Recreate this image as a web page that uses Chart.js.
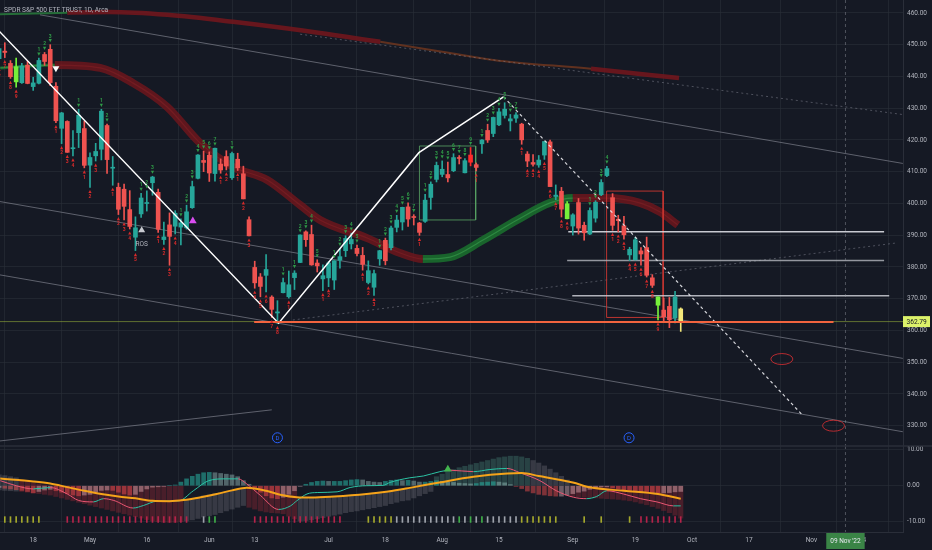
<!DOCTYPE html>
<html>
<head>
<meta charset="utf-8">
<script src="https://cdn.jsdelivr.net/npm/chart.js@4.4.1/dist/chart.umd.min.js"></script>
<style>
html, body { margin: 0; padding: 0; background: #151924; }
#wrap { position: relative; width: 932px; height: 550px; overflow: hidden; background: #151924; }
canvas { position: absolute; left: 0; }
#priceChart { top: 0; }
#oscChart { top: 440px; }
</style>
</head>
<body>
<div id="wrap">
  <canvas id="priceChart" width="932" height="446"></canvas>
  <canvas id="oscChart" width="932" height="110"></canvas>
</div>
<script>
// SPY daily, 7 Apr 2022 .. 29 Sep 2022 (bar index 0..120)
const opens = [445.59,447.97,444.11,443.08,438.03,443.55,436.81,437.86,446.92,448.54,436.91,423.67,425.83,417.24,422.29,423.59,
  412.07,415.01,417.08,424.55,411.10,405.10,404.49,398.07,389.37,396.71,399.98,406.53,403.50,388.62,393.25,392.83,392.56,392.31,398.67,407.91,413.55,
  415.17,409.42,412.40,414.78,408.10,413.93,409.34,394.88,379.85,376.85,377.36,370.51,365.51,371.89,370.62,376.64,381.40,391.05,390.23,381.23,376.24,
  376.56,375.88,382.11,385.12,387.27,385.85,383.65,375.10,373.61,382.55,388.38,386.08,392.47,394.16,398.92,395.75,393.84,394.36,401.89,407.58,
  409.15,409.12,410.30,414.37,409.66,415.25,412.22,418.78,422.99,422.03,424.77,427.73,425.99,426.86,424.98,415.55,412.90,412.11,415.24,419.39,402.20,403.85,399.92,
  392.89,400.28,393.13,390.37,395.37,402.74,408.78,401.83,395.04,392.96,383.80,382.26,385.06,386.11,376.58,370.58,366.41,367.58,363.97,366.79];
const highs = [450.69,450.63,445.00,445.75,444.11,444.73,439.75,445.80,447.57,450.01,438.08,428.69,426.04,422.92,429.64,425.87,
  415.92,418.93,429.66,425.00,414.80,406.41,406.08,404.04,395.80,403.18,403.97,408.57,404.52,394.14,397.03,397.73,395.15,399.45,407.04,415.38,416.46,
  416.24,417.44,414.04,416.61,416.22,415.82,411.74,395.78,381.81,377.94,383.90,370.94,369.38,376.53,378.72,378.83,390.09,391.36,393.16,382.27,380.66,
  381.70,381.98,385.87,389.83,390.64,386.87,386.16,381.92,379.05,385.25,389.09,392.87,396.26,398.84,400.18,396.47,394.06,402.88,406.80,413.03,
  413.41,413.00,415.68,415.09,414.15,417.62,412.75,420.10,424.95,427.21,429.96,431.73,428.03,428.61,425.26,416.33,415.42,415.11,419.56,419.96,405.84,405.06,400.58,
  396.78,401.56,394.12,398.59,400.86,407.51,411.73,403.10,396.29,395.96,386.20,389.31,386.12,389.41,377.58,370.62,370.21,370.40,372.35,367.11];
const lows = [443.53,445.94,439.39,436.65,437.84,437.68,435.61,437.68,443.48,437.10,425.44,418.84,416.07,415.01,417.60,411.21,
  405.02,413.36,413.71,409.44,405.73,396.50,394.82,391.96,385.15,395.61,397.60,402.58,390.88,387.11,380.54,390.38,386.96,391.89,398.45,407.70,410.03,
  406.93,407.04,409.51,410.55,407.61,410.38,401.44,389.75,373.30,370.59,372.12,364.08,362.17,371.81,370.18,372.89,381.37,386.50,380.53,378.42,372.56,
  373.80,372.90,379.60,383.27,385.66,383.50,378.99,374.66,371.04,380.54,380.66,385.39,391.03,391.63,392.75,393.21,389.95,394.05,398.15,406.77,
  408.40,406.82,410.00,412.44,409.60,411.83,410.22,415.77,419.21,421.03,424.52,426.88,422.83,425.50,418.64,411.59,411.77,411.39,413.88,405.25,401.20,395.73,395.11,
  390.04,390.33,388.42,390.20,394.12,402.46,408.46,391.54,391.01,388.78,382.00,382.18,380.55,376.83,373.54,363.29,363.03,360.87,362.35,359.70];
const closes = [448.77,447.57,439.92,438.29,443.31,437.79,437.97,445.04,444.71,438.06,426.04,428.51,416.10,417.27,427.81,412.00,
  414.48,416.38,429.06,413.81,411.34,398.17,399.09,392.75,392.34,401.72,400.09,408.32,391.86,389.46,389.63,396.92,393.89,397.37,405.31,415.26,412.93,
  409.59,417.39,410.54,411.79,415.74,411.22,401.44,389.80,375.00,373.87,379.20,366.65,365.86,375.07,374.39,378.06,390.08,388.59,380.65,380.34,377.25,
  381.24,381.96,383.25,388.99,388.67,384.23,380.83,378.83,377.91,385.13,381.95,392.27,394.77,398.79,395.09,395.57,390.89,401.04,406.07,411.99,
  410.77,408.06,414.45,414.17,413.47,412.99,411.35,419.99,419.99,427.10,428.86,429.70,426.65,427.89,420.04,413.35,412.35,413.67,419.51,405.31,402.63,398.21,395.18,
  396.42,392.24,390.76,397.78,400.38,406.60,410.97,393.10,394.60,390.12,385.56,388.55,384.09,377.39,374.22,367.95,364.31,363.38,370.53,362.79];

// closes of the four sessions before 7 Apr and the running buy count, for the TD setup numbers
const seedCloses = [452.92, 456.80, 451.03, 446.52];
const seedBuyCount = 5;
const yellowBars = [120];

// axes
const dateTickIdx = [6, 16, 26, 37, 45, 58, 68, 78, 88, 101, 112, 122, 132, 143, 152];
const dateTickLabels = ['18', 'May', '16', 'Jun', '13', 'Jul', '18', 'Aug', '15', 'Sep', '19', 'Oct', '17', 'Nov', '14'];
const priceTicks = [330, 340, 350, 360, 370, 380, 390, 400, 410, 420, 430, 440, 450, 460];
const oscTicks = [10, 0, -10];

// moving average ribbons (read at points)
const topBandIdx = [0.15, 6, 12, 19.5, 29.6, 41.2, 56.5, 67.1, 79.4, 87.0, 104.2, 119.7];
const topBandVal = [459.6, 459.8, 460.1, 460.3, 459.4, 457.2, 453.7, 450.9, 447.4, 445.2, 442.4, 439.5];
const topBandSide = ['g', 'g', 'r', 'r', 'r', 'r', 'r', 'o', 'o', 'o', 'r', 'r'];
const midBandIdx = [0.2, 5.4, 9.8, 17.8, 23.6, 29.6, 35.4, 41.2, 47.2, 53.0, 56.5, 64.8, 70.6, 74.6, 79.4, 85.2, 91.2, 97.0, 101.0, 107.0, 112.8, 116.4, 119.5];
const midBandVal = [442.7, 443.3, 443.6, 442.7, 437.9, 430.4, 419.0, 411.5, 407.4, 399.5, 394.8, 389.1, 384.4, 382.5, 383.1, 388.5, 394.8, 400.2, 401.7, 401.7, 400.2, 397.3, 393.2];
const midBandSide = ['s', 's', 'r', 'r', 'r', 'r', 'r', 'r', 'r', 'r', 'r', 'r', 'r', 'g', 'g', 'g', 'g', 'g', 'r', 'r', 'r', 'r', 'r'];

// drawings
const zigIdx = [0, 49.2, 73.9, 88.8];
const zigVal = [454.3, 362.3, 416.0, 433.6];
const projIdx = [88.8, 141.4];
const projVal = [433.6, 333.4];
const grayStartIdx = [7.2, 0.15, 0.15, 0.15];
const grayStartVal = [459.4, 400.6, 377.5, 325.2];
const grayEndIdx = [159.1, 159.1, 159.1, 48.0];
const grayEndVal = [412.6, 351.2, 328.1, 335.0];
const dotStartIdx = [51.7, 53.0];
const dotStartVal = [363.3, 453.3];
const dotEndIdx = [157.7, 159.1];
const dotEndVal = [387.5, 428.0];
const levelVal = [391.1, 382.0, 370.9];
const levelStart = [100.2, 100.0, 100.9];
const levelEnd = [155.8, 155.8, 156.7];
const supportVal = 362.7, supportStart = 44.9, supportEnd = 146.9;
const rectLeft = [74.0, 106.95], rectRight = [83.9, 116.9];
const rectTop = [418.1, 403.9], rectBottom = [394.8, 364.1];
const triIdx = [10.0, 25.1, 34.1];
const triVal = [442.6, 391.6, 394.5];
const rosIdx = 25.1, rosVal = 387.0;
const divIdx = [49, 110.9], divVal = 326.2;
const ellIdx = [137.8, 146.9], ellVal = [351.0, 330.0];
const crossIdx = 149, crossLabel = "09 Nov '22";

// lower pane
const macdIdx = [0.2, 3, 6, 9, 12, 14, 16.6, 18.4, 20.2, 23.6, 25.4, 27.8, 31.6, 34.2, 36.9, 39.8, 42.1, 43.6, 46, 49.2, 51.3, 52.4, 54.2, 56, 59.5, 61.8,
  64.7, 67.6, 68.8, 72.3, 74.7, 77.6, 79.4, 83.5, 86.4, 89.4, 91.7, 95.2, 98.1, 101.1, 103.4, 105.2, 107, 109.9, 112.9, 115.8, 118.7, 120];
const macdVal = [1.4, 0, -0.9, -0.5, -2.3, -4.1, -4.5, -3.6, -4.1, -6.2, -5.5, -4.3, -4.2, -1.4, 1.4, 1.9, 1.9, 0.5, -2.7, -6.6, -5.6, -4.2, -2.3, -1.9, -1.7, -0.5,
  0, 0.1, 0.9, 2.2, 2.7, 3.9, 4.3, 3.9, 4.5, 4.8, 3.6, 1.4, -1.4, -3.2, -3.6, -3.0, -1.4, -2.3, -3.6, -4.5, -5.6, -5.6];
const sigIdx = [0.2, 6, 9, 12, 15, 18, 21, 24, 27, 30, 32.5, 35.5, 38.3, 41, 43.6, 47, 49.5, 52.4, 55, 59, 64.7, 68.5, 72.3, 77.5, 83.5, 89.5, 92, 95, 101, 104, 110, 116, 120];
const sigVal = [2.0, 1.2, 0.6, -0.4, -1.4, -2.3, -3.0, -3.5, -4.2, -4.3, -4.0, -3.2, -2.3, -1.3, -0.6, -1.4, -2.5, -3.2, -3.3, -3.0, -2.3, -1.6, -0.6, 0.9, 2.5, 3.4, 3.5, 2.7, 0.9, -0.45, -1.4, -2.3, -3.6];
const hist = [
  -0.5,-0.7,-0.9,-1.1,-1.3,-1.6,-2.0,-1.6,-1.2,-1.0,
  -1.4,-1.8,-2.2,-2.6,-2.8,-2.6,-2.4,-1.8,-1.3,-1.2,
  -1.3,-1.8,-2.3,-2.6,-2.4,-1.6,-0.9,-0.4,-0.3,-0.2,
  0.0,0.2,1.0,1.9,2.6,3.2,3.6,3.7,3.6,3.4,
  3.2,3.0,2.5,1.4,0.4,-0.8,-1.8,-2.8,-3.4,-3.6,
  -3.2,-2.4,-1.4,-0.2,0.4,0.9,1.2,1.3,1.2,1.2,
  1.2,1.4,1.6,1.7,1.6,1.2,1.0,0.9,1.2,1.5,
  1.6,1.4,1.5,1.3,1.0,1.0,1.2,1.4,1.2,1.0,
  0.9,0.7,0.6,0.5,0.6,0.9,1.0,1.1,1.0,0.8,
  0.3,-0.2,-0.8,-1.5,-2.0,-2.4,-2.6,-2.8,-2.9,-2.9,
  -2.6,-2.2,-1.8,-1.5,-1.0,-0.6,-0.3,-0.3,-0.6,-0.9,
  -1.1,-1.3,-1.5,-1.6,-1.8,-1.9,-2.0,-2.0,-1.9,-1.7,
  -1.6];
const cloudLo = [
  -1.2,-1.3,-1.4,-1.5,
  -1.6,-1.8,-2.0,-2.2,-2.4,
  -2.6,-3.0,-3.4,-3.8,-4.2,-4.6,-5.0,-5.4,-5.8,-6.2,-6.6,-7.0,-7.4,-7.8,-8.2,-8.6,-9.0,-9.4,
  -9.8,-10.0,-10.2,-10.2,-10.2,-10.0,
  -9.8,-9.5,-9.1,-8.7,-8.3,-8.0,-7.5,-7.0,-6.5,-6.0,-5.5,
  -6.0,-6.5,-7.0,-7.3,-7.5,-7.6,-7.8,-8.5,-9.2,
  -9.8,-9.7,-9.5,-9.2,-8.9,-8.5,-8.2,-7.9,-7.5,-7.2,-7.0,-6.7,-6.4,-6.1,-5.8,-5.5,-5.0,-4.6,-4.2,-4.0,-3.4,-2.8,-2.2,-1.6,
  0,0,0,0,0,0,0,0,0,0,0,0,0,0,0,0,0,0,0,0,0,0,0,0,
  -3.0,-3.1,-3.2,-3.3,-3.4,-3.5,-3.6,-3.7,-3.8,-4.0,-4.2,-4.5,-4.9,-5.3,-5.8,-6.3,-6.9,-7.5,-8.2,-9.0];
const cloudHi = [
  3.0,2.8,2.5,2.2,
  1.6,1.2,0.8,0.5,0.2,
  0,0,0,0,0,0,0,0,0,0,0,0,0,0,0,0,0,0,0,0,0,0,0,0,
  -4.0,-3.6,-3.2,-2.8,-2.5,-2.2,-1.9,-1.6,-1.3,-1.0,-0.8,
  0,0,0,0,0,0,0,0,0,
  -3.3,-3.3,-3.3,-3.2,-3.1,-3.0,-3.0,-2.9,-2.8,-2.7,-2.5,-2.4,-2.2,-2.0,-1.8,-1.6,-1.4,-1.2,-1.0,-0.8,-0.5,-0.3,-0.1,0.0,
  2.5,3.2,4.0,4.5,5.0,5.4,5.8,6.2,6.6,7.0,7.4,7.8,8.0,8.2,8.2,8.0,7.6,7.0,6.3,5.5,4.6,3.6,2.6,1.6,
  0,0,0,0,0,0,0,0,0,0,0,0,0,0,0,0,0,0,0,0];
const cloudKind = 'gggg' + 'rrrrrrrrrrrrrrrrrrrrrrrrrrrrr' + 'ggggggggggg' + 'rrrrrrrrr' + 'gggggggggggggggggggggggg' +
  'ttttttttttttttttt' + 'ggggggg' + 'rrrrrrrrrrrrrrrrrrrr';
const tickKind = 'yyyyyyyy' + '----' + 'rrrrrrrrrrrrrrrrrrrrrr' + '--' + 'w' + 'gg' + '------' + 'rrrrrrrrrrrrrrrr' + '----' +
  'yyyyy' + 'wwwwwwwwwww' + 'gwgwg' + 'wwwwww' + 'yyyyyyy' + '----' + 'y' + '--' + 'y' + '----' + 'y' + '-' + 'rrrrrrrr';
const oscTriIdx = 79, oscTriVal = 4.6;

// ---------------------------------------------------------------
const fontFam = 'Roboto, "Liberation Sans", Arial, sans-serif';
const axisText = '#b2b5be';
const gridColor = 'rgba(42,46,57,0.6)';
const paneLine = '#2a2e39';
const upColor = '#26a69a', downColor = '#ef5350';
const xMin = 0.155, xMax = 159.13;

Chart.defaults.font.family = fontFam;
Chart.defaults.elements.point.radius = 0;

const pts = (idx, val) => idx.map((x, k) => ({ x: x, y: val[k] }));

// TD setup counts
const tdUp = [], tdDown = [];
(function () {
  const all = seedCloses.concat(closes);
  let up = 0, down = seedBuyCount;
  for (let i = 0; i < closes.length; i++) {
    const c = all[i + 4], ref = all[i];
    if (c > ref) { up++; down = 0; }
    else if (c < ref) { down++; up = 0; }
    else { up = 0; down = 0; }
    tdUp.push(up); tdDown.push(down);
  }
})();

function candleColor(i) {
  if (yellowBars.includes(i)) return '#f3e77a';
  if (tdDown[i] === 9) return '#76f03a';
  if (tdUp[i] === 9) return '#ff2b2b';
  return closes[i] >= opens[i] ? upColor : downColor;
}
const barColors = closes.map((c, i) => candleColor(i));

function lineDs(data, color, width, order, extra) {
  return Object.assign({ type: 'line', data: data, borderColor: color, borderWidth: width, pointRadius: 0,
    fill: false, tension: 0, order: order }, extra || {});
}

// keep the plot area flush with the canvas edges
function noPad(s) { s.paddingTop = 0; s.paddingBottom = 0; s.paddingLeft = 0; s.paddingRight = 0; }

const priceDatasets = [];
// ribbons
const topRed = 'rgba(118,22,28,0.85)';
priceDatasets.push(lineDs(pts(topBandIdx, topBandVal), topRed, 4.5, 100, {
  cubicInterpolationMode: 'monotone',
  segment: {
    borderColor: c => topBandSide[c.p0DataIndex] === 'g' ? 'rgba(40,125,60,0.85)' : (topBandSide[c.p0DataIndex] === 'o' ? 'rgba(115,55,30,0.8)' : topRed),
    borderWidth: c => topBandSide[c.p0DataIndex] === 'r' ? 4.5 : 2
  }
}));
const midRed = 'rgba(112,22,28,0.82)', midGreen = 'rgba(26,110,45,0.88)';
const midColor = k => (k === 'r' ? midRed : midGreen);
priceDatasets.push(lineDs(pts(midBandIdx, midBandVal), midRed, 8, 99, {
  cubicInterpolationMode: 'monotone',
  segment: {
    borderColor: c => midColor(midBandSide[c.p0DataIndex]),
    borderWidth: c => midBandSide[c.p0DataIndex] === 's' ? 3 : 8
  }
}));
priceDatasets.push(lineDs(pts(midBandIdx, midBandVal), 'rgba(140,35,40,0.45)', 1.2, 98, {
  cubicInterpolationMode: 'monotone',
  segment: { borderColor: c => midBandSide[c.p0DataIndex] === 'r' ? 'rgba(140,35,40,0.45)' : 'rgba(60,160,80,0.6)' }
}));
// trend lines
grayStartIdx.forEach((s, k) => priceDatasets.push(lineDs([{ x: s, y: grayStartVal[k] }, { x: grayEndIdx[k], y: grayEndVal[k] }], 'rgba(125,128,140,0.7)', 1, 90)));
dotStartIdx.forEach((s, k) => priceDatasets.push(lineDs([{ x: s, y: dotStartVal[k] }, { x: dotEndIdx[k], y: dotEndVal[k] }], 'rgba(125,128,140,0.55)', 1, 90, { borderDash: [2, 3] })));
// boxes
const rectColors = ['rgba(90,165,100,0.8)', 'rgba(205,55,50,0.9)'];
rectLeft.forEach((l, k) => priceDatasets.push(lineDs([
  { x: l, y: rectTop[k] }, { x: rectRight[k], y: rectTop[k] }, { x: rectRight[k], y: rectBottom[k] },
  { x: l, y: rectBottom[k] }, { x: l, y: rectTop[k] }], rectColors[k], 1, 85)));
// levels
const levelColors = ['rgba(220,222,228,0.9)', 'rgba(180,182,190,0.8)', 'rgba(205,207,214,0.85)'];
levelVal.forEach((v, k) => priceDatasets.push(lineDs([{ x: levelStart[k], y: v }, { x: levelEnd[k], y: v }], levelColors[k], 1.5, 80)));
// candles
priceDatasets.push({ type: 'bar', data: closes.map((c, i) => ({ x: i, y: [lows[i], highs[i]] })), backgroundColor: barColors,
  barThickness: 1, grouped: false, order: 50 });
priceDatasets.push({ type: 'bar', data: closes.map((c, i) => ({ x: i, y: [Math.min(opens[i], c), Math.max(opens[i], c)] })), backgroundColor: barColors,
  barThickness: 4, minBarLength: 1, grouped: false, order: 49 });
// last price and support
priceDatasets.push(lineDs([{ x: xMin, y: closes[closes.length - 1] }, { x: xMax, y: closes[closes.length - 1] }], 'rgba(160,185,60,0.55)', 1, 26));
priceDatasets.push(lineDs([{ x: supportStart, y: supportVal }, { x: supportEnd, y: supportVal }], '#f2643f', 2, 25));
// zigzag
priceDatasets.push(lineDs(pts(zigIdx, zigVal), '#ffffff', 1.5, 30));
priceDatasets.push(lineDs(pts(projIdx, projVal), 'rgba(235,235,240,0.9)', 1.2, 30, { borderDash: [3, 3] }));
// markers
priceDatasets.push({ type: 'scatter', data: pts(triIdx, triVal), pointStyle: 'triangle', pointRadius: [4, 4, 4.5],
  rotation: [180, 0, 0], backgroundColor: ['#ffffff', '#c9cbd1', '#d94df0'], borderWidth: 0, order: 10 });

function smallTri(ctx, x, y, s, up) {
  ctx.beginPath();
  if (up) { ctx.moveTo(x, y - s); ctx.lineTo(x + s, y + s); ctx.lineTo(x - s, y + s); }
  else { ctx.moveTo(x, y + s); ctx.lineTo(x + s, y - s); ctx.lineTo(x - s, y - s); }
  ctx.closePath(); ctx.fill();
}

const priceOverlay = {
  id: 'priceOverlay',
  afterDatasetsDraw(chart) {
    const { ctx, chartArea } = chart;
    const x = chart.scales.x, y = chart.scales.y;
    ctx.save();
    ctx.beginPath(); ctx.rect(chartArea.left, chartArea.top, chartArea.right - chartArea.left, chartArea.bottom - chartArea.top); ctx.clip();
    // TD setup numbers
    ctx.font = 'bold 5px ' + fontFam;
    ctx.textAlign = 'center';
    for (let i = 0; i < closes.length; i++) {
      const px = x.getPixelForValue(i);
      if (tdUp[i] >= 1 && tdUp[i] <= 9) {
        const yh = y.getPixelForValue(highs[i]);
        ctx.fillStyle = '#2f9a47';
        smallTri(ctx, px, yh - 4, 1.6, false);
        ctx.textBaseline = 'alphabetic';
        ctx.fillText(String(tdUp[i]), px, yh - 7);
      }
      if (tdDown[i] >= 1 && tdDown[i] <= 9) {
        const yl = y.getPixelForValue(lows[i]);
        ctx.fillStyle = '#d82a2a';
        smallTri(ctx, px, yl + 4, 1.6, true);
        ctx.textBaseline = 'top';
        ctx.fillText(String(tdDown[i]), px, yl + 7);
      }
    }
    // ROS label
    ctx.font = '6.5px ' + fontFam;
    ctx.fillStyle = '#b2b5be';
    ctx.textBaseline = 'middle';
    ctx.fillText('ROS', x.getPixelForValue(rosIdx), y.getPixelForValue(rosVal));
    // ellipses
    ctx.strokeStyle = 'rgba(200,45,50,0.9)'; ctx.lineWidth = 1;
    ellIdx.forEach((v, k) => {
      ctx.beginPath();
      ctx.ellipse(x.getPixelForValue(v), y.getPixelForValue(ellVal[k]), 11, 5.5, 0, 0, Math.PI * 2);
      ctx.stroke();
    });
    // dividend marks
    divIdx.forEach(v => {
      const px = x.getPixelForValue(v), py = y.getPixelForValue(divVal);
      ctx.strokeStyle = '#2962ff'; ctx.lineWidth = 1;
      ctx.beginPath(); ctx.arc(px, py, 5, 0, Math.PI * 2); ctx.stroke();
      ctx.fillStyle = '#2962ff'; ctx.font = '6px ' + fontFam;
      ctx.fillText('D', px, py + 0.5);
    });
    // crosshair
    const cx = x.getPixelForValue(crossIdx);
    ctx.strokeStyle = 'rgba(150,154,165,0.45)'; ctx.setLineDash([3, 3]);
    ctx.beginPath(); ctx.moveTo(cx, chartArea.top); ctx.lineTo(cx, chartArea.bottom); ctx.stroke();
    ctx.setLineDash([]);
    ctx.restore();
  },
  afterDraw(chart) {
    const { ctx, chartArea } = chart;
    const y = chart.scales.y;
    ctx.save();
    // title
    ctx.font = '6.6px ' + fontFam;
    ctx.fillStyle = '#b2b5be';
    ctx.textAlign = 'left'; ctx.textBaseline = 'middle';
    ctx.fillText('SPDR S&P 500 ETF TRUST, 1D, Arca', 4, 10.5);
    // last price tag
    const last = closes[closes.length - 1];
    const py = y.getPixelForValue(last);
    ctx.fillStyle = '#dcf26a';
    ctx.fillRect(chartArea.right, py - 5.5, 932 - chartArea.right - 2, 11);
    ctx.fillStyle = '#131722';
    ctx.fillText(last.toFixed(2), chartArea.right + 3.5, py + 0.5);
    ctx.restore();
  }
};

new Chart(document.getElementById('priceChart'), {
  type: 'bar',
  data: { datasets: priceDatasets },
  options: {
    responsive: false, animation: false, events: [],
    layout: { padding: 0, autoPadding: false },
    plugins: { legend: { display: false }, tooltip: { enabled: false } },
    scales: {
      x: {
        type: 'linear', min: xMin, max: xMax, offset: false,
        afterBuildTicks: s => { s.ticks = dateTickIdx.map(v => ({ value: v })); },
        ticks: { display: false },
        grid: { color: gridColor, drawTicks: false },
        border: { display: false },
        afterFit: s => { s.height = 0; noPad(s); }
      },
      y: {
        position: 'right', min: 323.61, max: 464.08,
        afterBuildTicks: s => { s.ticks = priceTicks.map(v => ({ value: v })); },
        ticks: { color: axisText, font: { size: 6.5 }, padding: 4, callback: v => Number(v).toFixed(2) },
        grid: { color: gridColor, drawTicks: false },
        border: { color: paneLine },
        afterFit: s => { s.width = 29; noPad(s); }
      }
    }
  },
  plugins: [priceOverlay]
});

// ---------------- lower pane ----------------
const cloudColor = { r: 'rgba(125,35,48,0.5)', g: 'rgba(125,125,135,0.33)', t: 'rgba(70,135,122,0.38)' };
const tickColor = { y: '#a4a82c', r: '#b5234a', g: '#3fae49', w: '#9ea2ab' };
const histColors = hist.map((v, i) => {
  const prev = i > 0 ? hist[i - 1] : v;
  if (v >= 0) return v >= prev ? 'rgba(38,166,154,0.6)' : 'rgba(178,223,219,0.38)';
  return v < prev ? 'rgba(255,82,82,0.45)' : 'rgba(255,205,210,0.38)';
});
const tickBars = [], tickBarColors = [];
for (let i = 0; i < tickKind.length; i++) {
  if (tickKind[i] !== '-') { tickBars.push({ x: i, y: [-10.2, -8.6] }); tickBarColors.push(tickColor[tickKind[i]]); }
}

const oscOverlay = {
  id: 'oscOverlay',
  afterDatasetsDraw(chart) {
    const { ctx, chartArea } = chart;
    const x = chart.scales.x;
    const cx = x.getPixelForValue(crossIdx);
    ctx.save();
    ctx.strokeStyle = 'rgba(150,154,165,0.45)'; ctx.setLineDash([3, 3]); ctx.lineWidth = 1;
    ctx.beginPath(); ctx.moveTo(cx, chartArea.top); ctx.lineTo(cx, chartArea.bottom); ctx.stroke();
    ctx.setLineDash([]);
    ctx.restore();
  },
  afterDraw(chart) {
    const { ctx, chartArea } = chart;
    const x = chart.scales.x;
    ctx.save();
    ctx.strokeStyle = paneLine; ctx.lineWidth = 1.5;
    ctx.beginPath(); ctx.moveTo(0, chartArea.top); ctx.lineTo(932, chartArea.top); ctx.stroke();
    const cx = x.getPixelForValue(crossIdx);
    ctx.font = '6.5px ' + fontFam;
    const w = ctx.measureText(crossLabel).width + 8;
    ctx.fillStyle = '#3a8446';
    ctx.fillRect(cx - w / 2, chartArea.bottom + 1, w, chart.height - chartArea.bottom - 2);
    ctx.fillStyle = '#e6e8ee'; ctx.textAlign = 'center'; ctx.textBaseline = 'middle';
    ctx.fillText(crossLabel, cx, (chartArea.bottom + chart.height) / 2);
    ctx.restore();
  }
};

new Chart(document.getElementById('oscChart'), {
  type: 'bar',
  data: {
    datasets: [
      { type: 'bar', data: cloudLo.map((lo, i) => ({ x: i, y: [lo, cloudHi[i]] })), backgroundColor: cloudKind.split('').map(k => cloudColor[k]),
        barThickness: 4.5, grouped: false, order: 100 },
      { type: 'bar', data: hist.map((v, i) => ({ x: i, y: v })), backgroundColor: histColors, barThickness: 4, grouped: false, order: 90 },
      { type: 'bar', data: tickBars, backgroundColor: tickBarColors, barThickness: 1, grouped: false, order: 80 },
      lineDs(pts(macdIdx, macdVal), '#26c6a0', 1, 30, {
        cubicInterpolationMode: 'monotone',
        segment: { borderColor: c => c.p1.parsed.y >= c.p0.parsed.y ? '#2cc3a4' : '#ea5673' }
      }),
      lineDs(pts(sigIdx, sigVal), '#f5a31a', 2, 20, { cubicInterpolationMode: 'monotone' }),
      { type: 'scatter', data: [{ x: oscTriIdx, y: oscTriVal }], pointStyle: 'triangle', pointRadius: 4.5,
        backgroundColor: '#43b54f', borderWidth: 0, order: 10 }
    ]
  },
  options: {
    responsive: false, animation: false, events: [],
    layout: { padding: { top: 6, left: 0, right: 0, bottom: 0 }, autoPadding: false },
    plugins: { legend: { display: false }, tooltip: { enabled: false } },
    scales: {
      x: {
        type: 'linear', min: xMin, max: xMax, offset: false,
        afterBuildTicks: s => { s.ticks = dateTickIdx.map(v => ({ value: v })); },
        ticks: { color: axisText, font: { size: 6.5 }, padding: 4, autoSkip: false, maxRotation: 0,
          callback: v => dateTickLabels[dateTickIdx.indexOf(v)] },
        grid: { color: gridColor, drawTicks: false },
        border: { color: paneLine },
        afterFit: s => { s.height = 18; noPad(s); }
      },
      y: {
        position: 'right', min: -12.86, max: 11.03,
        afterBuildTicks: s => { s.ticks = oscTicks.map(v => ({ value: v })); },
        ticks: { color: axisText, font: { size: 6.5 }, padding: 4, callback: v => Number(v).toFixed(2) },
        grid: { color: gridColor, drawTicks: false },
        border: { color: paneLine },
        afterFit: s => { s.width = 29; noPad(s); }
      }
    }
  },
  plugins: [oscOverlay]
});
</script>
</body>
</html>
